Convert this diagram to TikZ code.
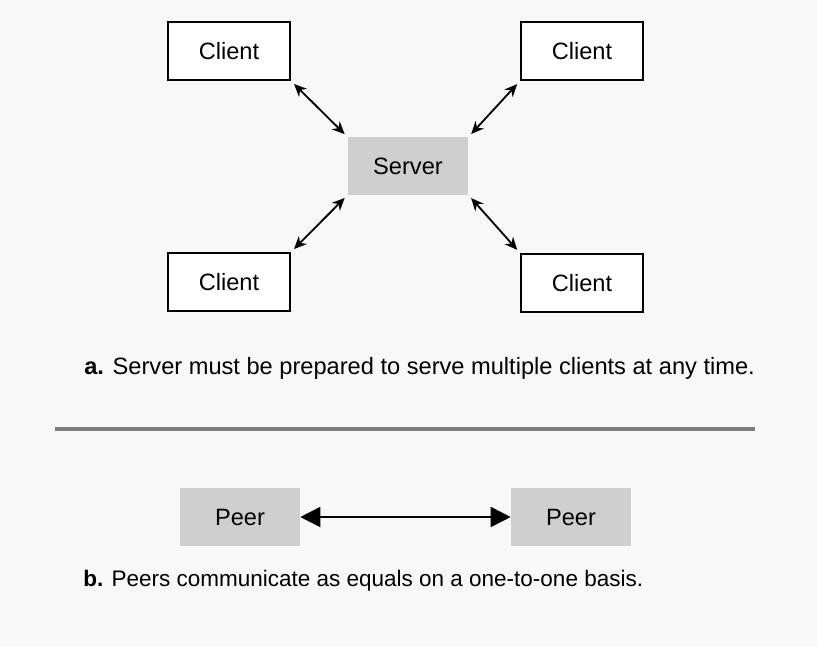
\documentclass[tikz,border=0pt]{standalone}
\usepackage{fontspec}
\setmainfont{Liberation Sans}
\usetikzlibrary{arrows.meta}
\definecolor{boxgray}{RGB}{207,207,207}
\definecolor{paper}{RGB}{248,248,248}
\definecolor{rulegray}{RGB}{125,125,125}

\begin{document}
\begin{tikzpicture}[x=0.025cm, y=-0.025cm, font=\fontsize{16.8}{20}\selectfont,
        client/.style={draw, line width=1.4pt, fill=white, minimum width=3.05cm, minimum height=1.45cm},
        shaded/.style={fill=boxgray, minimum width=3cm, minimum height=1.43cm},
        link/.style={line width=1.3pt, {Stealth[length=9pt,width=8pt]}-{Stealth[length=9pt,width=8pt]}, shorten <=3pt, shorten >=3pt},
        talk/.style={line width=1.2pt, {Triangle[length=0.5cm,width=0.5cm]}-{Triangle[length=0.5cm,width=0.5cm]}}]
            \fill[paper] (0, 0) rectangle (817, 646);
            \node[client] (tl) at (229, 51) {Client};
            \node[client] (tr) at (582, 51) {Client};
            \node[shaded] (server) at (408, 166) {Server};
            \node[client] (bl) at (229, 282) {Client};
            \node[client] (br) at (582, 283) {Client};
            \draw[link] (tl.south east) -- (server.north west);
            \draw[link] (tr.south west) -- (server.north east);
            \draw[link] (bl.north east) -- (server.south west);
            \draw[link] (br.north west) -- (server.south east);
            \node[anchor=west, inner sep=0] (capa) at (84, 368) {\textbf{a.} Server must be prepared to serve multiple clients at any time.};
            \coordinate (ruleL) at (55, 429);
            \coordinate (ruleR) at (755, 429);
            \draw[rulegray, line width=2.2pt] (ruleL) -- (ruleR);
            \node[shaded] (peerL) at (240, 517) {Peer};
            \node[shaded] (peerR) at (571, 517) {Peer};
            \draw[talk] (peerL) -- (peerR);
            \node[anchor=west, inner sep=0, font=\fontsize{16}{20}\selectfont] (capb) at (83, 581) {\textbf{b.} Peers communicate as equals on a one-to-one basis.};
        \end{tikzpicture}
\end{document}
